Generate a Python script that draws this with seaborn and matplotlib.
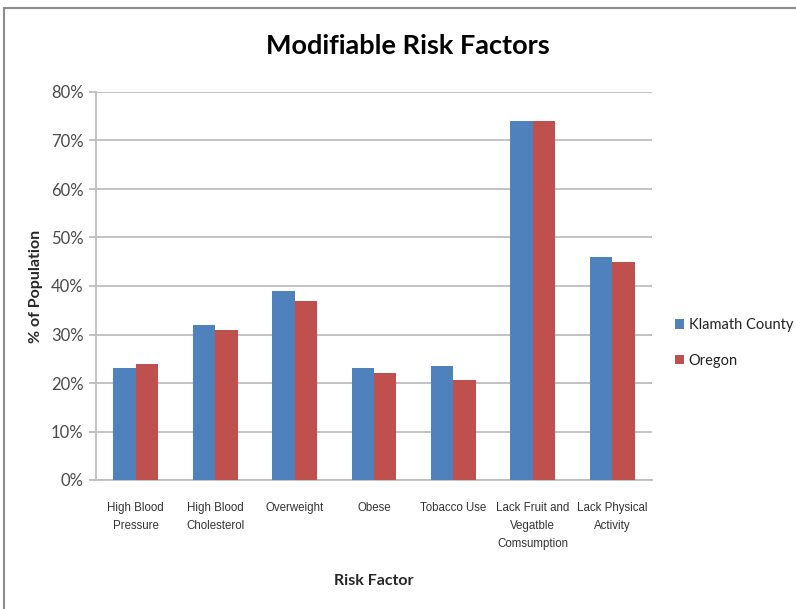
import matplotlib
matplotlib.use("Agg")
import matplotlib.pyplot as plt
from matplotlib.patches import Rectangle
from matplotlib.ticker import FuncFormatter
import seaborn as sns
import pandas as pd

categories = [
    "High Blood\nPressure",
    "High Blood\nCholesterol",
    "Overweight",
    "Obese",
    "Tobacco Use",
    "Lack Fruit and\nVegatble\nComsumption",
    "Lack Physical\nActivity",
]
klamath = [23, 32, 39, 23, 23.6, 74, 46]
oregon = [24, 31, 37, 22, 20.6, 74, 45]
series_names = ["Klamath County", "Oregon"]
y_ticks = [0, 10, 20, 30, 40, 50, 60, 70, 80]

df = pd.DataFrame({
    "Risk Factor": categories * 2,
    "Percent": klamath + oregon,
    "Area": [series_names[0]] * len(categories) + [series_names[1]] * len(categories),
})

sns.set_style("white")
plt.rcParams["font.family"] = ["Lato", "DejaVu Sans"]

fig = plt.figure(figsize=(7.96, 6.09), dpi=100)
ax = fig.add_axes([96 / 796, 1 - 480 / 609, 556 / 796, 388 / 609])

palette = {"Klamath County": "#4F81BD", "Oregon": "#C0504D"}
sns.barplot(data=df, x="Risk Factor", y="Percent", hue="Area", palette=palette,
            width=0.565, gap=0, saturation=1, ax=ax, zorder=3, legend=True,
            edgecolor="none")

ax.set_ylim(0, 80)
ax.set_yticks(y_ticks)
ax.yaxis.set_major_formatter(FuncFormatter(lambda v, p: f"{int(v)}%"))
ax.grid(axis="y", color="#BEBEBE", linewidth=1.3, zorder=0)
ax.set_axisbelow(True)
for side in ("top", "right"):
    ax.spines[side].set_visible(False)
for side in ("left", "bottom"):
    ax.spines[side].set_color("#BEBEBE")
    ax.spines[side].set_linewidth(1.3)
ax.tick_params(axis="y", which="major", left=True, length=5, width=1.3,
               color="#BEBEBE", labelsize=12, labelcolor="#4A4A4A", pad=4)
ax.tick_params(axis="x", bottom=False, pad=12)
for lbl in ax.get_xticklabels():
    lbl.set_fontfamily(["Liberation Sans", "DejaVu Sans"])
    lbl.set_fontsize(8.3)
    lbl.set_color("#333333")
    lbl.set_verticalalignment("top")
    lbl.set_multialignment("center")
    lbl.set_linespacing(1.7)

ax.set_xlabel("Risk Factor", fontsize=11.5, fontweight="bold", labelpad=17)
ax.set_ylabel("% of Population", fontsize=11.5, fontweight="bold", labelpad=6)

fig.text(0.512, 0.924, "Modifiable Risk Factors", ha="center", va="center",
         fontsize=19.5, fontweight="bold", color="black")

leg = ax.legend(loc="center left", bbox_to_anchor=(1.025, 0.353), frameon=False,
                fontsize=10.5, handlelength=0.65, handleheight=0.65,
                handletextpad=0.3, labelspacing=1.45, borderaxespad=0.2)
for t in leg.get_texts():
    t.set_color("#222222")

# Outer chart frame
fig.patches.append(Rectangle((4 / 796, -0.05), 1.2, 1 - 8 / 609 + 0.05,
                             transform=fig.transFigure, fill=False,
                             edgecolor="#8C8C8C", linewidth=1.5))

fig.savefig("out.png", dpi=100)
